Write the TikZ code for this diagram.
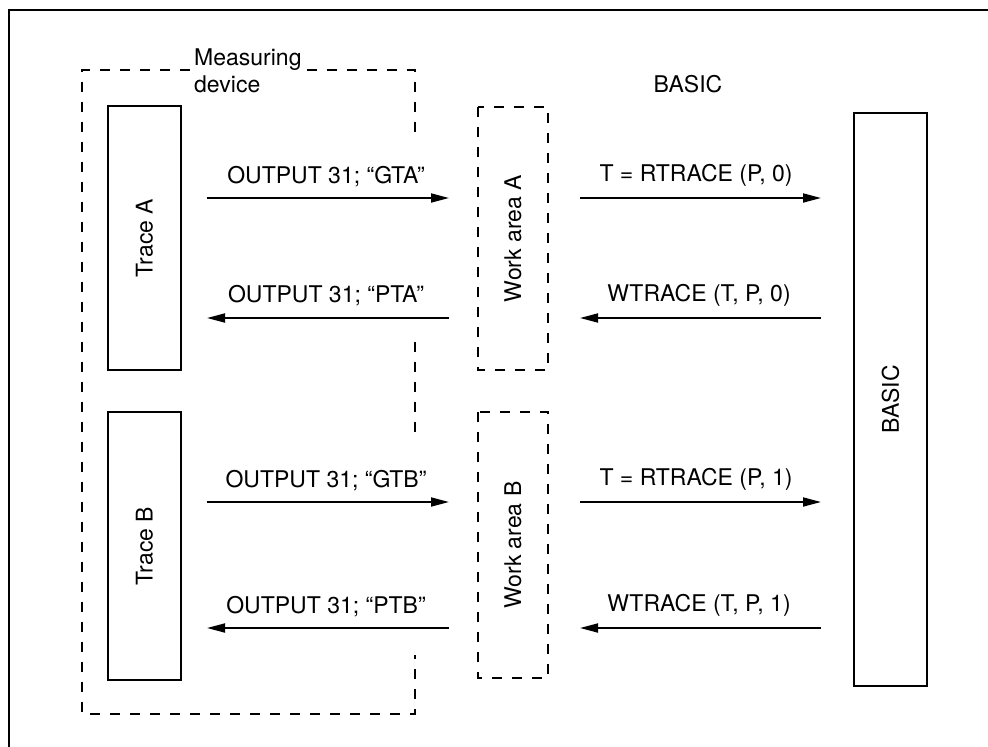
\documentclass[tikz,border=0pt]{standalone}
\usepackage{fontspec}
\setmainfont{TeX Gyre Heros}
\usetikzlibrary{arrows.meta}
\begin{document}
\begin{tikzpicture}[x=1pt,y=-1pt,
  txt/.style={font=\fontsize{23}{27}\selectfont, inner sep=0pt},
  solidbox/.style={draw, line width=2.4pt, rotate=90, font=\fontsize{23}{27}\selectfont, inner sep=0pt},
  dashbox/.style={draw, line width=2pt, dash pattern=on 10pt off 10pt, rotate=90, font=\fontsize{23}{27}\selectfont, inner sep=0pt},
  dashline/.style={line width=2pt, dash pattern=on 10pt off 10pt},
  flow/.style={line width=1.8pt, -{Triangle[length=18pt,width=9pt]}},
  frame/.style={line width=2.4pt}
]
\useasboundingbox (0,0) rectangle (988,747);
% outer frame (top and left)
\coordinate (fbl) at (9,747);
\coordinate (ftl) at (9,10);
\coordinate (ftr) at (988,10);
\draw[frame] (fbl) -- (ftl) -- (ftr);

% measuring device outline
\coordinate (m1) at (190,70);
\coordinate (m0) at (82,70);
\coordinate (m2) at (307,70);
\coordinate (m3) at (415,70);
\coordinate (m4) at (415,140);
\coordinate (m5) at (415,342);
\coordinate (m6) at (415,438);
\coordinate (m7) at (415,655);
\coordinate (m8) at (415,714);
\coordinate (m9) at (82,714);
\draw[dashline] (m1) -- (m0) -- (m9) -- (m8) -- (m7);
\draw[dashline] (m2) -- (m3) -- (m4);
\draw[dashline] (m5) -- (m6);
\node[txt, anchor=base west] (mlabel1) at (194,65) {Measuring};
\node[txt, anchor=base west] (mlabel2) at (194,92) {device};
\node[txt, anchor=base] (blabel) at (688,92) {BASIC};

% boxes
\node[solidbox, minimum width=264pt, minimum height=73pt] (traceA) at (144.5,238) {Trace A};
\node[solidbox, minimum width=268pt, minimum height=73pt] (traceB) at (144.5,546) {Trace B};
\node[dashbox, minimum width=263pt, minimum height=70pt] (workA) at (513,238.5) {Work area A};
\node[dashbox, minimum width=266pt, minimum height=70pt] (workB) at (513,545) {Work area B};
\node[solidbox, minimum width=573pt, minimum height=73pt] (basic) at (890.5,399.5) {BASIC};

% arrow end points
\foreach \n/\y in {a/198, b/318, c/502, d/628}{
  \coordinate (L\n) at (207,\y);
  \coordinate (M\n) at (449,\y);
  \coordinate (N\n) at (580,\y);
  \coordinate (R\n) at (821,\y);
}
\draw[flow] (La) -- (Ma);
\draw[flow] (Mb) -- (Lb);
\draw[flow] (Lc) -- (Mc);
\draw[flow] (Md) -- (Ld);
\draw[flow] (Na) -- (Ra);
\draw[flow] (Rb) -- (Nb);
\draw[flow] (Nc) -- (Rc);
\draw[flow] (Rd) -- (Nd);

% labels
\node[txt, anchor=base] (t1) at (326,183) {OUTPUT 31; “GTA”};
\node[txt, anchor=base] (t2) at (326,302) {OUTPUT 31; “PTA”};
\node[txt, anchor=base] (t3) at (326,487) {OUTPUT 31; “GTB”};
\node[txt, anchor=base] (t4) at (326,613) {OUTPUT 31; “PTB”};
\node[txt, anchor=base] (t5) at (696,181) {T = RTRACE (P, 0)};
\node[txt, anchor=base] (t6) at (699,301) {WTRACE (T, P, 0)};
\node[txt, anchor=base] (t7) at (696,485) {T = RTRACE (P, 1)};
\node[txt, anchor=base] (t8) at (699,611) {WTRACE (T, P, 1)};
\end{tikzpicture}
\end{document}
